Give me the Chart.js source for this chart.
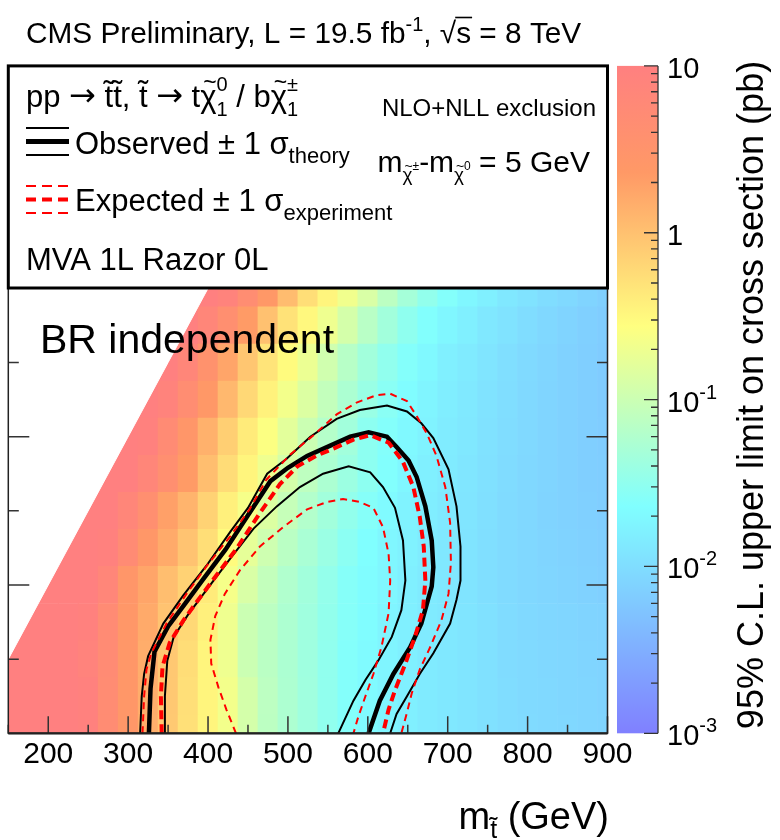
<!DOCTYPE html>
<html>
<head>
<meta charset="utf-8">
<script src="https://cdn.jsdelivr.net/npm/chart.js@4.4.1/dist/chart.umd.min.js"></script>
<style>
  html, body { margin: 0; padding: 0; background: #fff; }
  canvas { display: block; }
</style>
</head>
<body>
<canvas id="limits" width="780" height="840"></canvas>
<script>
// signal grid (GeV)
const stopMass = [150, 175, 200, 225, 250, 275, 300, 325, 350, 375, 400, 425, 450, 475, 500, 525,
                  550, 575, 600, 625, 650, 675, 700, 725, 750, 775, 800, 825, 850, 875, 900];
const lspMass = [0, 25, 50, 75, 100, 125, 150, 175, 200, 225, 250, 275, 300];

// 95% CL upper limit on the cross section (pb), one list per LSP mass, null = not generated
const limLsp0   = [20, 18, 15, 12, 9, 4.8, 2.6, 1.45, 0.85, 0.52, 0.34, 0.22, 0.12, 0.075, 0.056, 0.043, 0.032, 0.025, 0.021, 0.018, 0.016, 0.014, 0.013, 0.012, 0.011, 0.010, 0.0095, 0.009, 0.0087, 0.0084, 0.0081];
const limLsp25  = [20, 18, 15, 12, 9, 4.9, 2.6, 1.5, 0.86, 0.53, 0.34, 0.22, 0.12, 0.076, 0.056, 0.043, 0.032, 0.025, 0.021, 0.018, 0.016, 0.014, 0.013, 0.012, 0.011, 0.010, 0.0093, 0.0089, 0.0086, 0.0083, 0.008];
const limLsp50  = [20, 18, 15, 12, 8, 5, 2.6, 1.5, 0.87, 0.56, 0.34, 0.2, 0.1, 0.072, 0.055, 0.042, 0.032, 0.025, 0.021, 0.018, 0.016, 0.014, 0.013, 0.012, 0.011, 0.0098, 0.0092, 0.0088, 0.0085, 0.0082, 0.0079];
const limLsp75  = [null, 20, 16, 13, 9, 5, 2.6, 1.6, 0.95, 0.62, 0.38, 0.2, 0.1, 0.075, 0.056, 0.043, 0.033, 0.026, 0.022, 0.018, 0.016, 0.014, 0.013, 0.012, 0.011, 0.0097, 0.009, 0.0086, 0.0083, 0.008, 0.0077];
const limLsp100 = [null, null, 18, 14, 10, 7, 2.8, 1.8, 1.07, 0.7, 0.42, 0.23, 0.13, 0.085, 0.06, 0.045, 0.034, 0.026, 0.022, 0.019, 0.016, 0.014, 0.013, 0.0118, 0.0105, 0.0095, 0.0088, 0.0083, 0.0079, 0.0076, 0.0073];
const limLsp125 = [null, null, null, 16, 12, 9, 5, 2.6, 1.6, 0.95, 0.55, 0.3, 0.17, 0.105, 0.072, 0.052, 0.039, 0.029, 0.023, 0.019, 0.0165, 0.0145, 0.013, 0.0117, 0.0104, 0.0094, 0.0087, 0.0081, 0.0077, 0.0074, 0.0071];
const limLsp150 = [null, null, null, null, 14, 11, 7, 4, 2.0, 1.3, 0.7, 0.38, 0.23, 0.14, 0.09, 0.062, 0.045, 0.033, 0.026, 0.021, 0.017, 0.015, 0.0133, 0.012, 0.0106, 0.0095, 0.0087, 0.008, 0.0076, 0.0072, 0.0069];
const limLsp175 = [null, null, null, null, null, 14, 12, 7, 4, 2.2, 1.07, 0.57, 0.34, 0.2, 0.12, 0.078, 0.055, 0.04, 0.03, 0.024, 0.019, 0.016, 0.014, 0.0125, 0.011, 0.0098, 0.0088, 0.0081, 0.0075, 0.0071, 0.0068];
const limLsp200 = [null, null, null, null, null, null, 14, 9, 5, 2.8, 1.4, 0.75, 0.42, 0.26, 0.16, 0.1, 0.065, 0.045, 0.03, 0.025, 0.02, 0.017, 0.0145, 0.013, 0.0113, 0.01, 0.009, 0.0082, 0.0076, 0.0071, 0.0067];
const limLsp225 = [null, null, null, null, null, null, null, 14, 8, 4.5, 2.4, 1.2, 0.62, 0.36, 0.22, 0.14, 0.085, 0.055, 0.038, 0.028, 0.022, 0.018, 0.015, 0.0133, 0.0115, 0.0102, 0.0091, 0.0082, 0.0075, 0.007, 0.0066];
const limLsp250 = [null, null, null, null, null, null, null, null, 14, 7, 3.5, 1.8, 0.9, 0.48, 0.3, 0.19, 0.11, 0.068, 0.045, 0.032, 0.025, 0.02, 0.016, 0.014, 0.012, 0.0105, 0.0093, 0.0083, 0.0076, 0.007, 0.0065];
const limLsp275 = [null, null, null, null, null, null, null, null, null, 14, 7, 4, 2.2, 1.0, 0.5, 0.32, 0.2, 0.12, 0.07, 0.045, 0.031, 0.024, 0.019, 0.016, 0.013, 0.0115, 0.01, 0.0088, 0.008, 0.0073, 0.0067];
const limLsp300 = [null, null, null, null, null, null, null, null, null, null, 14, 8, 4.5, 2.4, 1.1, 0.55, 0.34, 0.21, 0.13, 0.075, 0.048, 0.033, 0.025, 0.019, 0.016, 0.013, 0.0115, 0.01, 0.009, 0.008, 0.0072];
const limitRows = [limLsp0, limLsp25, limLsp50, limLsp75, limLsp100, limLsp125, limLsp150,
                   limLsp175, limLsp200, limLsp225, limLsp250, limLsp275, limLsp300];

// kinematic edge m(stop) - m(LSP) = 100 GeV
const edgeStop = [150, 550];
const edgeLsp = [50, 450];

// exclusion contours, [m(stop), m(LSP)] in GeV
const observed = [[326,0],[328,30],[333,55],[350,72],[372,88],[394,104],[422,124],[450,147],[478,170],[500,179],[524,187],[553,194],[578,200],[601,203],[624,200],[636,193],[651,184],[661,173],[672,153],[680,130],[682,112],[680,99],[667,74],[653,58],[632,40],[615,22],[601,0]];
const observedUp = [[315,0],[317,25],[320,40],[325,52],[344,74],[369,93],[398,113],[428,136],[450,152],[474,175],[498,185],[528,200],[561,212],[590,218],[624,221],[649,217],[667,209],[682,199],[701,178],[711,153],[716,126],[716,103],[711,90],[703,74],[682,54],[665,40],[649,25],[636,13],[628,0]];
const observedDown = [[346,0],[346,25],[349,49],[357,65],[375,80],[400,98],[428,118],[457,138],[486,153],[515,166],[544,175],[576,180],[603,176],[619,166],[634,152],[644,130],[647,103],[642,83],[630,65],[613,49],[597,36],[582,22],[563,0]];
const expected = [[342,0],[341,25],[343,45],[352,61],[369,76],[385,88],[407,104],[435,124],[463,147],[490,168],[512,180],[535,187],[557,192],[582,198],[603,201],[626,196],[644,183],[657,166],[665,146],[670,126],[672,103],[669,83],[659,65],[647,47],[634,29],[626,16],[619,0]];
const expectedUp = [[318,0],[320,25],[323,43],[329,54],[348,74],[373,94],[400,114],[428,133],[452,151],[473,171],[503,188],[532,201],[561,215],[586,223],[611,228],[628,229],[649,224],[661,214],[674,202],[686,187],[697,166],[703,142],[704,115],[701,94],[692,76],[678,58],[665,43],[655,27],[649,14],[642,0]];
const expectedDown = [[435,0],[423,16],[413,31],[404,47],[403,63],[409,79],[421,94],[440,110],[465,126],[494,139],[524,151],[549,156],[569,158],[590,156],[607,152],[619,139],[626,121],[628,103],[626,81],[617,58],[607,40],[597,25],[588,11],[582,0]];

// colour bar range (pb) and its labels
const zMin = 1e-3, zMax = 10;
const zDecades = [1, 0, -1, -2, -3];

const FONT = '"Liberation Sans", Arial, Helvetica, sans-serif';
const SYMBOL_FONT = '"DejaVu Sans", sans-serif';

// pastel rainbow palette, log10 scale from zMin to zMax
const palStops = [0.00, 0.34, 0.61, 0.84, 1.00];
const palRed   = [0.50, 0.50, 1.00, 1.00, 1.00];
const palGreen = [0.50, 1.00, 1.00, 0.60, 0.50];
const palBlue  = [1.00, 1.00, 0.50, 0.40, 0.50];

function paletteAt(t) {
  t = Math.max(0, Math.min(1, t));
  let i = 0;
  while (i < palStops.length - 2 && t > palStops[i + 1]) i++;
  const f = (t - palStops[i]) / (palStops[i + 1] - palStops[i]);
  const mix = a => Math.round(255 * (a[i] + (a[i + 1] - a[i]) * f));
  return 'rgb(' + mix(palRed) + ',' + mix(palGreen) + ',' + mix(palBlue) + ')';
}
function zFrac(v) {
  return (Math.log10(v) - Math.log10(zMin)) / (Math.log10(zMax) - Math.log10(zMin));
}

const halfBin = (lspMass[1] - lspMass[0]) / 2;

const cellSets = lspMass.map((lsp, r) => ({
  type: 'bar',
  data: stopMass
    .map((stop, c) => limitRows[r][c] == null ? null : {x: stop, y: [lsp - halfBin, lsp + halfBin], v: limitRows[r][c]})
    .filter(Boolean),
  backgroundColor: ctx => paletteAt(ctx.raw ? zFrac(ctx.raw.v) : 1),
  borderWidth: 0,
  grouped: false,
  barPercentage: 1,
  categoryPercentage: 1,
  clip: 0,
  order: 3
}));

function xy(points) { return points.map(p => ({x: p[0], y: p[1]})); }
function contour(points, color, width, dash) {
  return {
    type: 'line', data: xy(points), borderColor: color, borderWidth: width, borderDash: dash || [],
    pointRadius: 0, tension: 0, fill: false, clip: 0, order: color === '#000' ? 1 : 0
  };
}

// text made of runs: [text, size, dy, stackOnPrevious, family, tilde]
function drawRuns(ctx, x, y, runs, align) {
  const fontOf = r => r[1] + 'px ' + (r[4] || FONT);
  const widths = runs.map(r => { ctx.font = fontOf(r); return ctx.measureText(r[0]).width; });
  const starts = [];
  let cx = 0, prevStart = 0, prevW = 0;
  runs.forEach((r, i) => {
    if (r[3]) {
      starts.push(prevStart);
      prevW = Math.max(prevW, widths[i]);
      cx = prevStart + prevW;
    } else {
      starts.push(cx);
      prevStart = cx; prevW = widths[i];
      cx += widths[i];
    }
  });
  const x0 = align === 'right' ? x - cx : x;
  ctx.textAlign = 'left';
  ctx.textBaseline = 'alphabetic';
  runs.forEach((r, i) => {
    ctx.font = fontOf(r);
    const gx = x0 + starts[i], gy = y + (r[2] || 0);
    ctx.fillText(r[0], gx, gy);
    if (r[5]) {
      // tilde accent centred over the glyph
      ctx.font = Math.round(r[1] * 0.75) + 'px ' + FONT;
      ctx.textAlign = 'center';
      ctx.fillText('~', gx + widths[i] / 2 + r[1] * 0.05, gy - r[1] * 0.55);
      ctx.textAlign = 'left';
    }
  });
  return {starts: starts.map(s => x0 + s), widths: widths, right: x0 + cx};
}

const frameTicks = {
  id: 'frameTicks',
  afterDatasetsDraw(chart) {
    const {ctx, chartArea: a, scales: {x, y}} = chart;
    ctx.save();
    ctx.strokeStyle = '#333';
    ctx.lineWidth = 1.5;
    for (let v = 150; v <= 900; v += 50) {
      const px = x.getPixelForValue(v);
      const len = v % 100 === 0 ? 17 : 8.5;
      ctx.beginPath();
      ctx.moveTo(px, a.bottom); ctx.lineTo(px, a.bottom - len);
      ctx.moveTo(px, a.top); ctx.lineTo(px, a.top + len);
      ctx.stroke();
    }
    for (let v = 50; v < 450; v += 50) {
      const py = y.getPixelForValue(v);
      const len = v % 100 === 0 ? 21 : 10.5;
      ctx.beginPath();
      ctx.moveTo(a.left, py); ctx.lineTo(a.left + len, py);
      ctx.moveTo(a.right, py); ctx.lineTo(a.right - len, py);
      ctx.stroke();
    }
    ctx.strokeStyle = '#222';
    ctx.strokeRect(a.left, a.top, a.right - a.left, a.bottom - a.top);
    ctx.lineWidth = 2.2;
    ctx.beginPath();
    ctx.moveTo(a.left, a.bottom); ctx.lineTo(a.right, a.bottom);
    ctx.stroke();
    ctx.restore();
  }
};

const decorations = {
  id: 'decorations',
  afterDraw(chart) {
    const {ctx, chartArea: a} = chart;
    ctx.save();
    ctx.fillStyle = '#000';

    // header
    const head = drawRuns(ctx, 26, 43, [
      ['CMS Preliminary, L = 19.5 fb', 29.8], ['-1', 20, -12], [', ', 29.8],
      ['\u221A', 29.8], ['s', 29.8], [' = 8 TeV', 29.8]
    ]);
    ctx.strokeStyle = '#000';
    ctx.lineWidth = 1.6;
    ctx.beginPath();
    ctx.moveTo(head.starts[3] + head.widths[3] - 1, 43 - 25.5);
    ctx.lineTo(head.starts[4] + head.widths[4] + 1, 43 - 25.5);
    ctx.stroke();

    // in-frame label
    drawRuns(ctx, 40, 353, [['BR independent', 41]]);

    // legend box
    ctx.fillStyle = '#fff';
    ctx.fillRect(a.left, a.top, a.right - a.left, 288 - a.top);
    ctx.strokeStyle = '#000';
    ctx.lineWidth = 3;
    ctx.strokeRect(a.left, a.top, a.right - a.left, 288 - a.top);

    ctx.fillStyle = '#000';
    drawRuns(ctx, 26, 107, [
      ['pp ', 31], ['\u2192', 32, -1, false, SYMBOL_FONT], [' ', 31], ['t\u0303t\u0303', 31], [', ', 31], ['t\u0303', 31],
      [' ', 31], ['\u2192', 32, -1, false, SYMBOL_FONT], [' t', 31],
      ['\u03C7', 31, 0, false, null, true], ['0', 20, -16], ['1', 20, 9, true],
      [' / b', 31], ['\u03C7', 31, 0, false, null, true], ['\u00B1', 20, -16], ['1', 20, 9, true]
    ]);
    drawRuns(ctx, 75, 154, [['Observed \u00B1 1 ', 31], ['\u03C3', 31], ['theory', 22, 9]]);
    drawRuns(ctx, 75, 211, [['Expected \u00B1 1 ', 31], ['\u03C3', 31], ['experiment', 22, 9]]);
    drawRuns(ctx, 26, 270, [['MVA 1L Razor 0L', 31]]);
    drawRuns(ctx, 596, 116, [['NLO+NLL exclusion', 24]], 'right');
    drawRuns(ctx, 590, 172, [
      ['m', 30], ['\u03C7', 19, 9, false, null, true], ['\u00B1', 12, -2], ['-m', 30],
      ['\u03C7', 19, 9, false, null, true], ['0', 12, -2], [' = 5 GeV', 30]
    ], 'right');

    // legend line samples
    ctx.setLineDash([]);
    ctx.strokeStyle = '#000';
    [[128, 2], [141.5, 5], [155, 2]].forEach(([yy, w]) => {
      ctx.lineWidth = w;
      ctx.beginPath(); ctx.moveTo(26, yy); ctx.lineTo(69, yy); ctx.stroke();
    });
    ctx.strokeStyle = '#f00';
    [[186, 2], [199.5, 4], [213, 2]].forEach(([yy, w]) => {
      ctx.lineWidth = w;
      ctx.setLineDash([10, 6]);
      ctx.beginPath(); ctx.moveTo(26, yy); ctx.lineTo(69, yy); ctx.stroke();
    });
    ctx.setLineDash([]);

    // colour bar
    const cbL = 617, cbR = 658;
    const grad = ctx.createLinearGradient(0, a.bottom, 0, a.top);
    palStops.forEach(s => grad.addColorStop(s, paletteAt(s)));
    ctx.fillStyle = grad;
    ctx.fillRect(cbL, a.top, cbR - cbL, a.bottom - a.top);
    const zPix = v => a.bottom - zFrac(v) * (a.bottom - a.top);
    ctx.strokeStyle = '#333';
    ctx.lineWidth = 1.3;
    ctx.beginPath();
    ctx.moveTo(cbR, a.top); ctx.lineTo(cbR, a.bottom);
    for (let d = -3; d < 1; d++) {
      for (let m = 1; m < 10; m++) {
        const py = zPix(m * Math.pow(10, d));
        const len = m === 1 ? 14 : 7;
        ctx.moveTo(cbR, py); ctx.lineTo(cbR - len, py);
      }
    }
    ctx.moveTo(cbR, zPix(zMax)); ctx.lineTo(cbR - 14, zPix(zMax));
    ctx.stroke();
    ctx.fillStyle = '#000';
    zDecades.forEach(d => {
      const py = zPix(Math.pow(10, d)) + 12;
      if (d === 1) drawRuns(ctx, 667, py, [['10', 29]]);
      else if (d === 0) drawRuns(ctx, 667, py, [['1', 29]]);
      else drawRuns(ctx, 667, py, [['10', 29], [String(d), 20, -13]]);
    });

    // colour bar title
    ctx.save();
    ctx.translate(763, 395);
    ctx.rotate(-Math.PI / 2);
    ctx.font = '36px ' + FONT;
    ctx.textAlign = 'center';
    ctx.textBaseline = 'alphabetic';
    ctx.fillText('95% C.L. upper limit on cross section (pb)', 0, 0);
    ctx.restore();

    // x axis title
    drawRuns(ctx, 609, 829, [['m', 38], ['t\u0303', 25, 9], [' (GeV)', 38]], 'right');
    ctx.restore();
  }
};

new Chart(document.getElementById('limits'), {
  type: 'bar',
  data: {
    datasets: [
      contour(expected, '#f00', 4, [9, 5]),
      contour(expectedUp, '#f00', 2, [7, 5]),
      contour(expectedDown, '#f00', 2, [7, 5]),
      contour(observed, '#000', 4.5),
      contour(observedUp, '#000', 2),
      contour(observedDown, '#000', 2),
      {
        type: 'line',
        data: edgeStop.map((s, i) => ({x: s, y: edgeLsp[i]})),
        borderColor: '#fff', borderWidth: 1, backgroundColor: '#fff',
        fill: 'end', pointRadius: 0, clip: 0, order: 2
      },
      ...cellSets
    ]
  },
  options: {
    responsive: false,
    animation: false,
    layout: {padding: {left: 8.3, right: 172.5, top: 65.9, bottom: 64.7}},
    plugins: {legend: {display: false}, tooltip: {enabled: false}},
    scales: {
      x: {
        type: 'linear', min: 150, max: 900, offset: false,
        grid: {display: false, drawTicks: false, offset: false},
        border: {display: false},
        ticks: {
          stepSize: 100, includeBounds: false, autoSkip: false, maxRotation: 0,
          padding: 3, color: '#000', font: {family: FONT, size: 30}
        }
      },
      y: {type: 'linear', min: 0, max: 450, display: false}
    }
  },
  plugins: [frameTicks, decorations]
});
</script>
</body>
</html>
